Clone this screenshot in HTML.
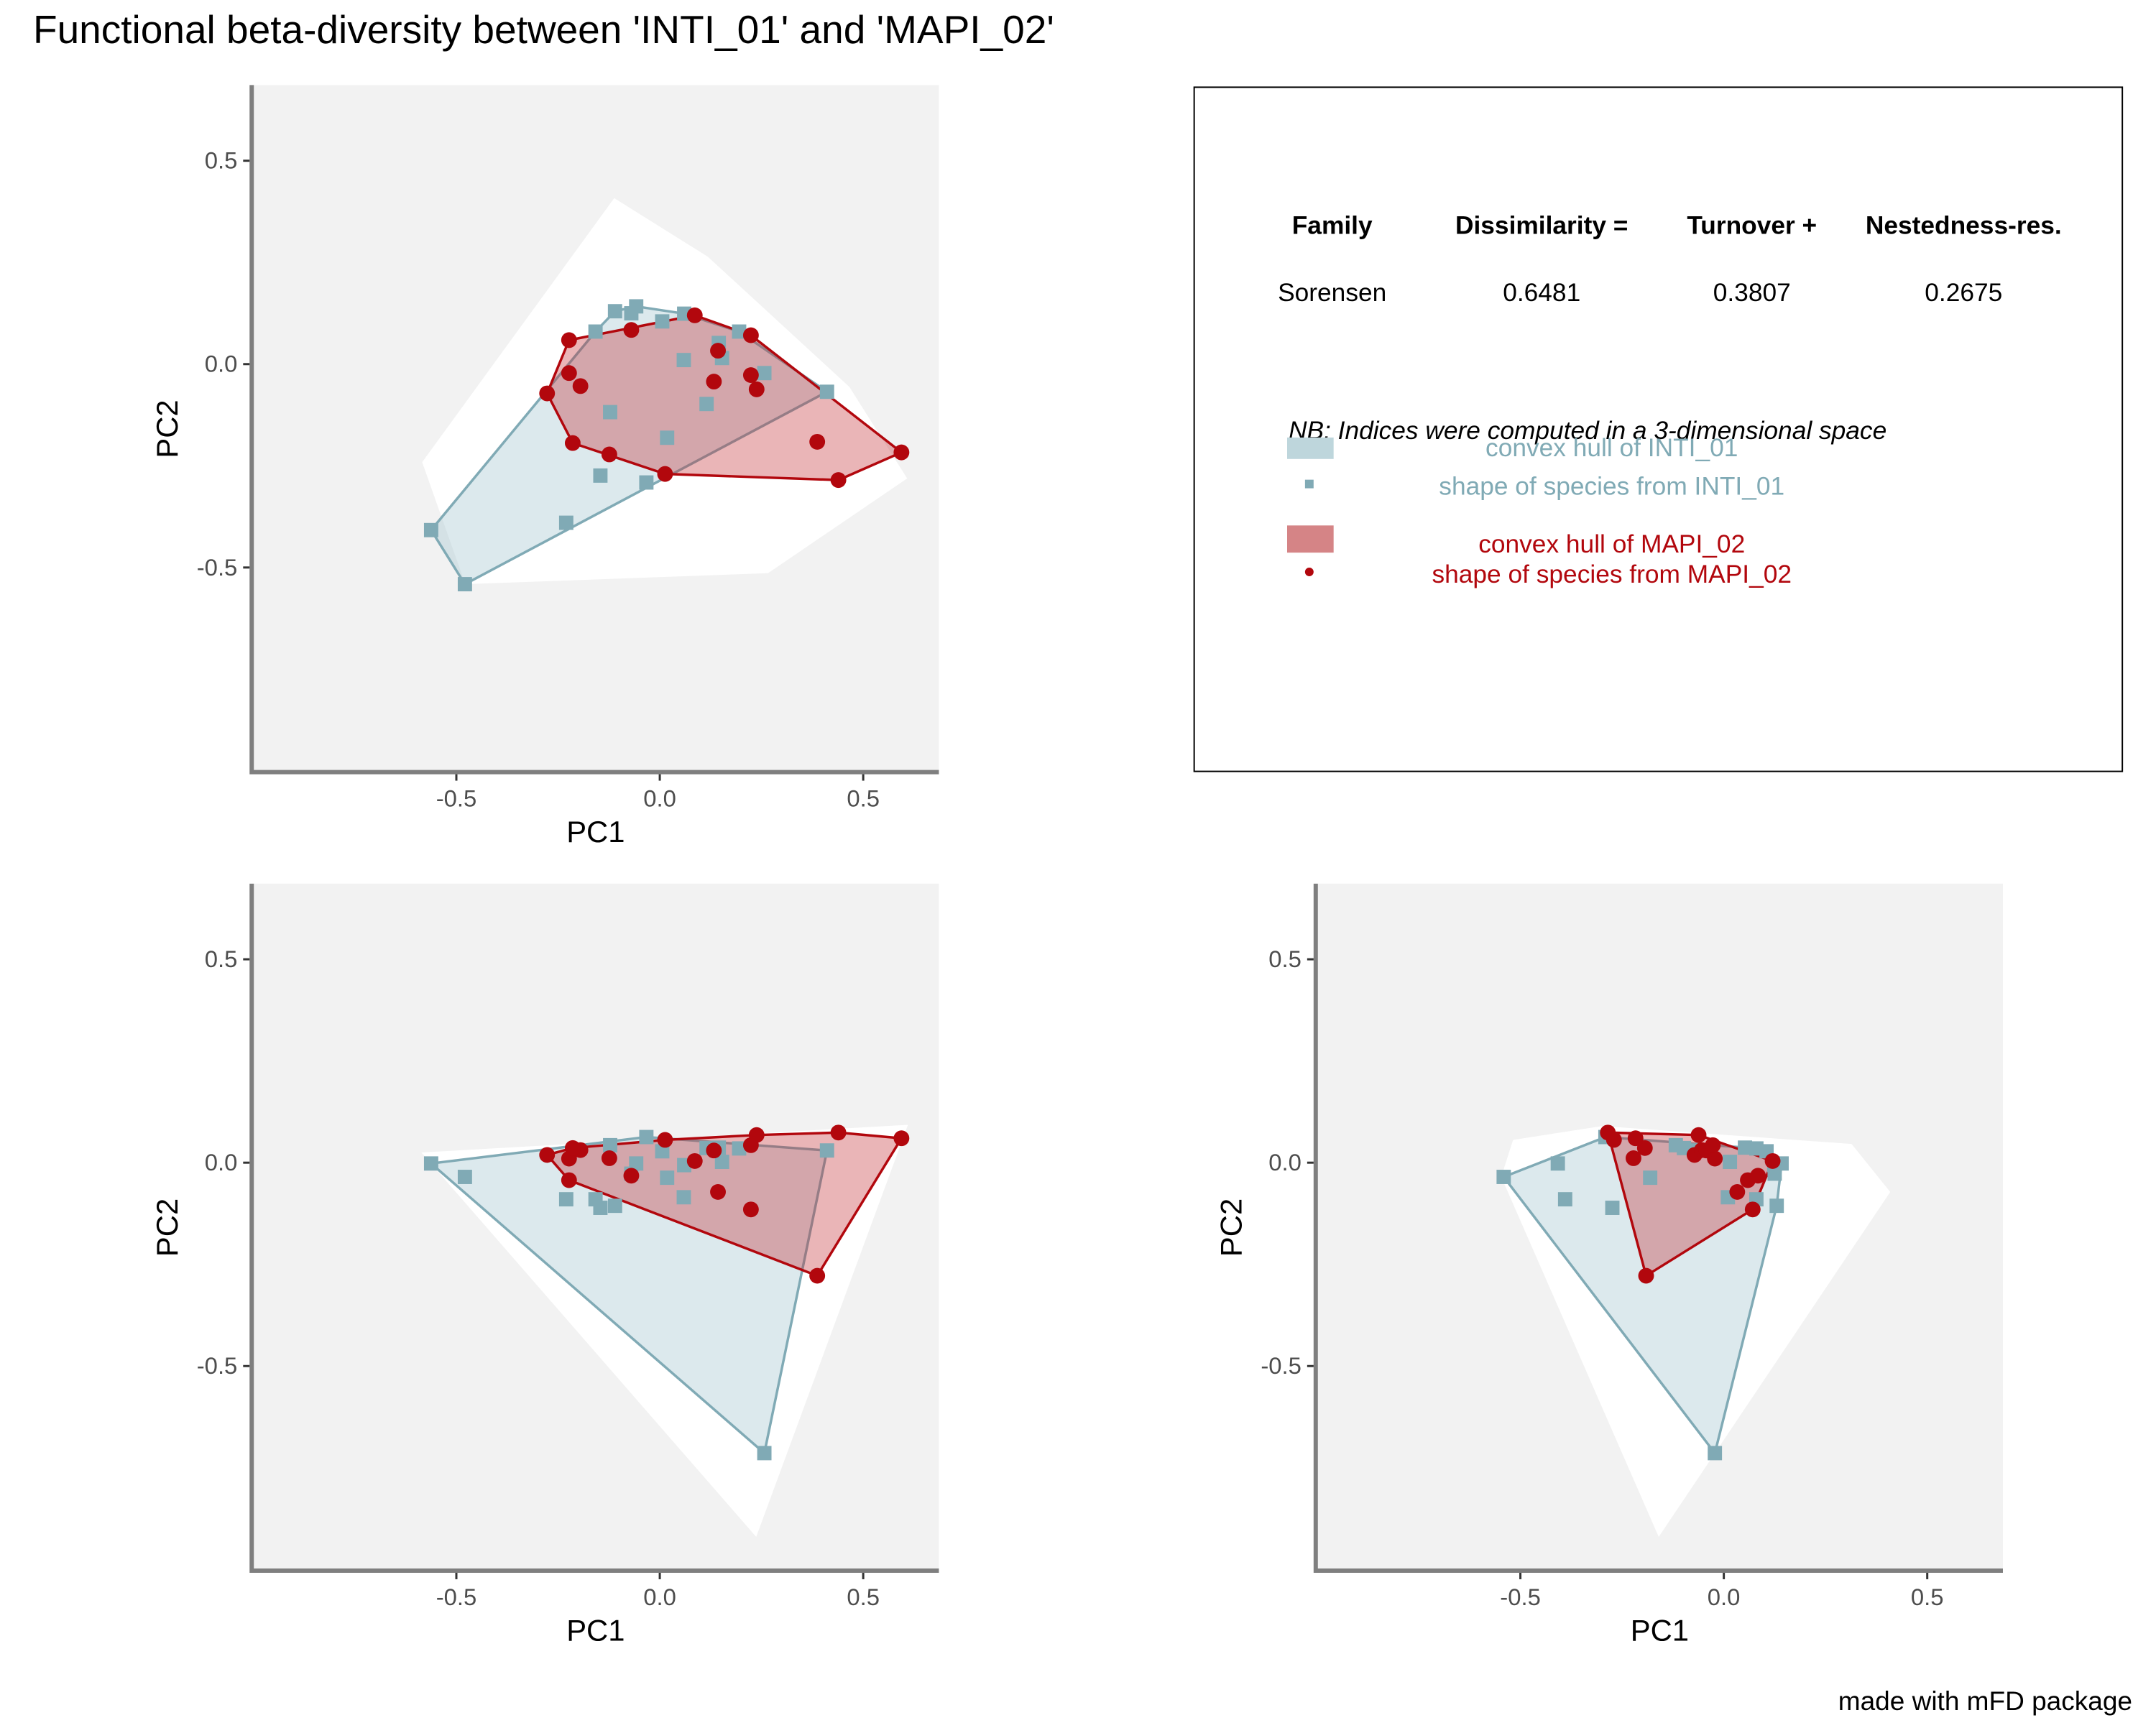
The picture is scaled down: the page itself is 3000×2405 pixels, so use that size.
<!DOCTYPE html>
<html><head><meta charset="utf-8"><title>Functional beta-diversity</title>
<style>
html,body{margin:0;padding:0;background:#fff;}
svg text{font-family:"Liberation Sans",Arial,sans-serif;}
</style></head>
<body>
<svg id="chart" width="3000" height="2400" viewBox="0 0 3000 2400" xmlns="http://www.w3.org/2000/svg">
  <rect x="0" y="0" width="3000" height="2400" fill="#fff"/>
  <text x="46" y="60" font-size="55" fill="#000">Functional beta-diversity between 'INTI_01' and 'MAPI_02'</text>
  <g transform="scale(0.995)">
  <g id="panels"></g>
  <g>
    <rect x="1670" y="122" width="1298" height="957" fill="#fff" stroke="#000" stroke-width="2"/>
    <g font-size="35.5" font-weight="bold" text-anchor="middle" fill="#000">
      <text x="1863" y="327">Family</text>
      <text x="2156" y="327">Dissimilarity =</text>
      <text x="2450" y="327">Turnover +</text>
      <text x="2746" y="327">Nestedness-res.</text>
    </g>
    <g font-size="35.5" text-anchor="middle" fill="#000">
      <text x="1863" y="421">Sorensen</text>
      <text x="2156" y="421">0.6481</text>
      <text x="2450" y="421">0.3807</text>
      <text x="2746" y="421">0.2675</text>
    </g>
    <text x="1802" y="614" font-size="35.5" font-style="italic" fill="#000">NB: Indices were computed in a 3-dimensional space</text>
    <rect x="1800" y="612" width="65" height="30" fill="#bed6dc"/>
    <text x="2254" y="638" font-size="35.5" text-anchor="middle" fill="#80aab5">convex hull of INTI_01</text>
    <rect x="1825" y="671" width="12" height="12" fill="#80aab5"/>
    <text x="2254" y="692" font-size="35.5" text-anchor="middle" fill="#80aab5">shape of species from INTI_01</text>
    <rect x="1800" y="735" width="65" height="38" fill="#d58486"/>
    <text x="2254" y="773" font-size="35.5" text-anchor="middle" fill="#b2070d">convex hull of MAPI_02</text>
    <circle cx="1831" cy="800" r="6" fill="#b2070d"/>
    <text x="2254" y="815" font-size="35.5" text-anchor="middle" fill="#b2070d">shape of species from MAPI_02</text>
  </g>
  </g>
  <text x="2967" y="2380" font-size="37" text-anchor="end" fill="#000">made with mFD package</text>
</svg>
<script>
// Species coordinates (INTI_01)
const intiPC1 = [-0.562,-0.479,-0.230,-0.146,-0.033,0.018,-0.122,0.115,0.059,0.153,0.145,0.257,0.195,0.411,0.060,0.006,-0.070,-0.058,-0.110,-0.158];
const intiPC2 = [-0.408,-0.541,-0.390,-0.274,-0.291,-0.181,-0.118,-0.098,0.010,0.015,0.052,-0.022,0.080,-0.068,0.124,0.105,0.125,0.142,0.130,0.080];
const intiPC3 = [-0.002,-0.035,-0.090,-0.111,0.063,-0.037,0.043,0.036,-0.085,0.002,0.037,-0.714,0.035,0.030,-0.006,0.028,-0.027,-0.002,-0.106,-0.090];
// Species coordinates (MAPI_02)
const mapiPC1 = [-0.277,-0.223,-0.223,-0.195,-0.214,-0.124,0.013,-0.070,0.086,0.224,0.143,0.133,0.224,0.238,0.387,0.439,0.594];
const mapiPC2 = [-0.072,0.059,-0.022,-0.054,-0.194,-0.222,-0.270,0.084,0.120,0.071,0.033,-0.043,-0.027,-0.062,-0.191,-0.285,-0.217];
const mapiPC3 = [0.019,-0.043,0.010,0.031,0.036,0.011,0.056,-0.032,0.004,-0.115,-0.072,0.030,0.043,0.068,-0.278,0.074,0.060];
// Global species pool hull vertices per projection
const poolHull12 = [[-0.112,0.408],[0.118,0.264],[0.466,-0.056],[0.608,-0.281],[0.266,-0.514],[-0.478,-0.541],[-0.584,-0.241]];
const poolHull13 = [[-0.586,0.025],[0.610,0.093],[0.237,-0.920]];
const poolHull23 = [[-0.518,0.056],[-0.299,0.090],[0.314,0.046],[0.409,-0.072],[-0.160,-0.920],[-0.547,-0.035]];
const tickValues = [-0.5, 0.0, 0.5];
const tickLabels = ["-0.5", "0.0", "0.5"];

const NS = "http://www.w3.org/2000/svg";
const root = document.getElementById("panels");
const DMIN = -1.003, DMAX = 0.686, SIZE = 961;

function mk(tag, attrs, parent) {
  const el = document.createElementNS(NS, tag);
  for (const k in attrs) el.setAttribute(k, attrs[k]);
  parent.appendChild(el);
  return el;
}
function hull(pts) {
  const p = pts.slice().sort((a,b)=>a[0]-b[0]||a[1]-b[1]);
  const cross=(o,a,b)=>(a[0]-o[0])*(b[1]-o[1])-(a[1]-o[1])*(b[0]-o[0]);
  const lo=[], up=[];
  for (const q of p){ while(lo.length>=2&&cross(lo[lo.length-2],lo[lo.length-1],q)<=0) lo.pop(); lo.push(q);}
  for (let i=p.length-1;i>=0;i--){const q=p[i]; while(up.length>=2&&cross(up[up.length-2],up[up.length-1],q)<=0) up.pop(); up.push(q);}
  up.pop(); lo.pop();
  return lo.concat(up);
}

function panel(name, left, top, ix, iy, mx, my, pool) {
  const g = mk("g", {}, root);
  
  
  const sx = v => left + (v - DMIN) / (DMAX - DMIN) * SIZE;
  const sy = v => top + (DMAX - v) / (DMAX - DMIN) * SIZE;
  const bg = mk("rect", {x:left, y:top, width:SIZE, height:SIZE, fill:"#f2f2f2"}, g);
  
  
  const pp = mk("polygon", {points: pool.map(d=>sx(d[0])+","+sy(d[1])).join(" "), fill:"#fff"}, g);
  
  
  const bPts = ix.map((v,i)=>[v, iy[i]]);
  const rPts = mx.map((v,i)=>[v, my[i]]);
  const bh = mk("polygon", {points: hull(bPts).map(d=>sx(d[0])+","+sy(d[1])).join(" "), fill:"#a8c7d1", "fill-opacity":"0.4", stroke:"#80aab5", "stroke-width":"3.5", "stroke-linejoin":"round"}, g);
  
  
  const rh = mk("polygon", {points: hull(rPts).map(d=>sx(d[0])+","+sy(d[1])).join(" "), fill:"#c0262d", "fill-opacity":"0.34", stroke:"#b2070d", "stroke-width":"3.5", "stroke-linejoin":"round"}, g);
  
  
  bPts.forEach(d => {
    const s = mk("rect", {x:sx(d[0])-10, y:sy(d[1])-10, width:20, height:20, fill:"#80aab5"}, g);
    
    
  });
  rPts.forEach(d => {
    const c = mk("circle", {cx:sx(d[0]), cy:sy(d[1]), r:11, fill:"#b2070d"}, g);
    
    
  });
  const bottom = top + SIZE;
  const ax = mk("path", {d:`M${left} ${top} V${bottom} H${left+SIZE}`, fill:"none", stroke:"#7f7f7f", "stroke-width":"6"}, g);
  
  
  tickValues.forEach((v,i) => {
    const tx = mk("line", {x1:sx(v), x2:sx(v), y1:bottom+3, y2:bottom+12, stroke:"#333", "stroke-width":"3"}, g);
    
    
    const lx = mk("text", {x:sx(v), y:bottom+48, "font-size":"33", "text-anchor":"middle", fill:"#4d4d4d"}, g);
    lx.textContent = tickLabels[i];
    
    
    const ty = mk("line", {x1:left-12, x2:left-3, y1:sy(v), y2:sy(v), stroke:"#333", "stroke-width":"3"}, g);
    
    
    const ly = mk("text", {x:left-20, y:sy(v)+11, "font-size":"33", "text-anchor":"end", fill:"#4d4d4d"}, g);
    ly.textContent = tickLabels[i];
    
    
  });
  const xt = mk("text", {x:left+481, y:bottom+98, "font-size":"42", "text-anchor":"middle", fill:"#000"}, g);
  xt.textContent = "PC1";
  
  
  const cy = top + 481, cx = left - 104;
  const yt = mk("text", {x:cx, y:cy, "font-size":"42", "text-anchor":"middle", fill:"#000", transform:`rotate(-90 ${cx} ${cy})`}, g);
  yt.textContent = "PC2";
  
  
}

panel("panel-pc1-pc2", 352, 119, intiPC1, intiPC2, mapiPC1, mapiPC2, poolHull12);
panel("panel-pc1-pc3", 352, 1236, intiPC1, intiPC3, mapiPC1, mapiPC3, poolHull13);
panel("panel-pc2-pc3", 1840, 1236, intiPC2, intiPC3, mapiPC2, mapiPC3, poolHull23);
</script>
</body></html>
